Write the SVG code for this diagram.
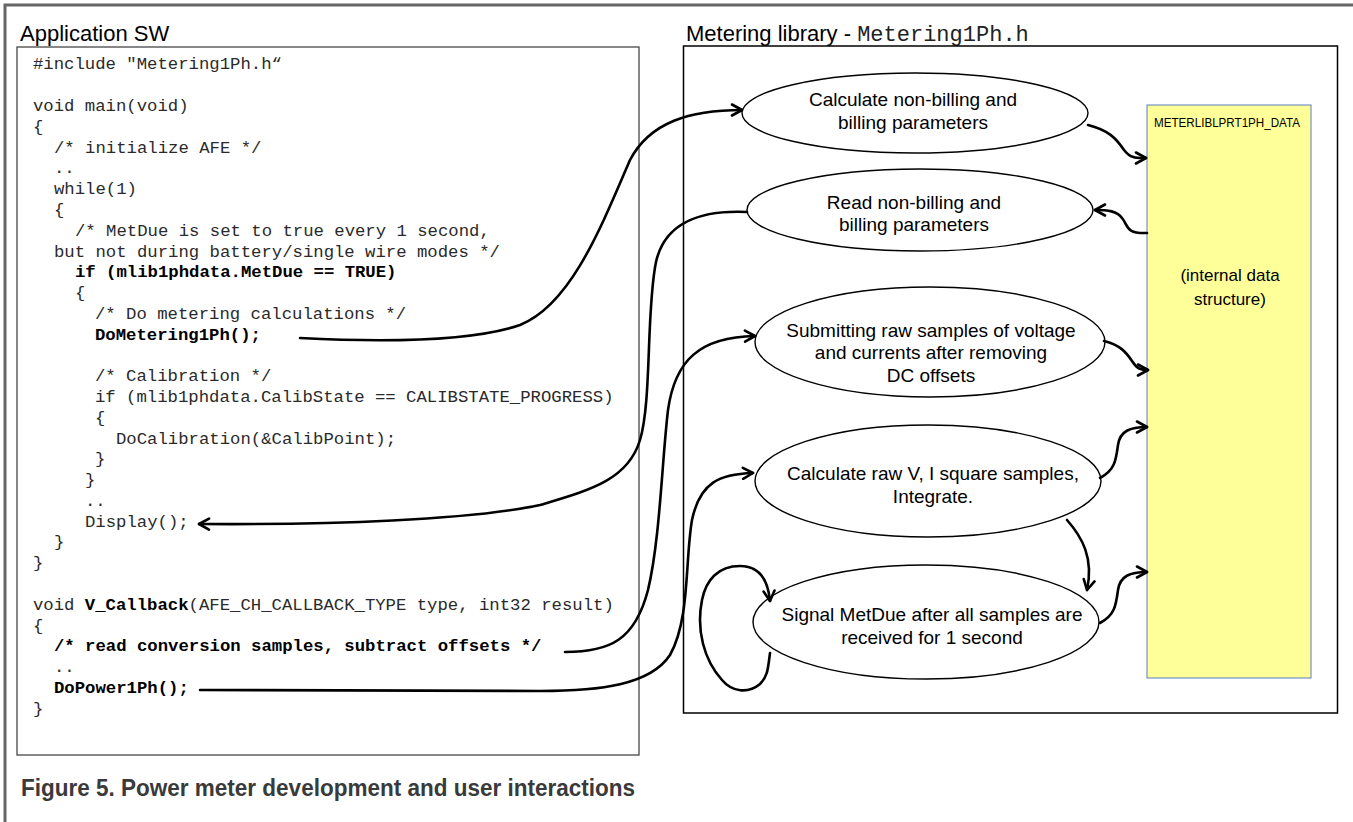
<svg xmlns="http://www.w3.org/2000/svg" width="1353" height="822" viewBox="0 0 1353 822">
  <style>
    .code { font-family: "Liberation Mono", "Courier New", monospace; font-size: 17.3px; fill: #2a2a2a; }
    .b { font-weight: bold; fill: #000; }
    .title { font-family: "Liberation Sans", Arial, sans-serif; font-size: 22px; fill: #000; }
    .lbl { font-family: "Liberation Sans", Arial, sans-serif; font-size: 19px; fill: #000; text-anchor: middle; }
    .bubble { fill: #fff; stroke: #000; stroke-width: 1.4; }
    .conn { fill: none; stroke: #000; stroke-width: 2.6; stroke-linecap: round; marker-end: url(#arr); }
  </style>
  <defs>
    <marker id="arr" viewBox="0 0 14 14" refX="12" refY="7" markerWidth="14" markerHeight="14" markerUnits="userSpaceOnUse" orient="auto">
      <path d="M2,1.5 L12,7 L2,12.5" fill="none" stroke="#000" stroke-width="2.6" stroke-linecap="round" stroke-linejoin="round"/>
    </marker>
  </defs>

  <rect width="1353" height="822" fill="#fff"/>
  <!-- page border -->
  <path d="M5,822 V5 H1353" fill="none" stroke="#666" stroke-width="3"/>

  <!-- application code panel -->
  <g id="app-sw">
    <text class="title" x="20" y="41">Application SW</text>
    <rect x="17" y="47" width="622" height="708" fill="#fff" stroke="#555" stroke-width="1.4"/>
    <text class="code" x="33" y="69">#include "Metering1Ph.h“</text>
    <text class="code" x="33" y="111">void main(void)</text>
    <text class="code" x="33" y="132">{</text>
    <text class="code" x="54" y="153">/* initialize AFE */</text>
    <text class="code" x="54" y="173">..</text>
    <text class="code" x="54" y="194">while(1)</text>
    <text class="code" x="54" y="215">{</text>
    <text class="code" x="75" y="236">/* MetDue is set to true every 1 second,</text>
    <text class="code" x="54" y="257">but not during battery/single wire modes */</text>
    <text class="code b" x="75" y="277">if (mlib1phdata.MetDue == TRUE)</text>
    <text class="code" x="75" y="298">{</text>
    <text class="code" x="95" y="319">/* Do metering calculations */</text>
    <text class="code b" x="95" y="340">DoMetering1Ph();</text>
    <text class="code" x="95" y="381">/* Calibration */</text>
    <text class="code" x="95" y="402">if (mlib1phdata.CalibState == CALIBSTATE_PROGRESS)</text>
    <text class="code" x="95" y="423">{</text>
    <text class="code" x="116" y="444">DoCalibration(&amp;CalibPoint);</text>
    <text class="code" x="95" y="464">}</text>
    <text class="code" x="85" y="485">}</text>
    <text class="code" x="85" y="506">..</text>
    <text class="code" x="85" y="527">Display();</text>
    <text class="code" x="54" y="547">}</text>
    <text class="code" x="33" y="568">}</text>
    <text class="code" x="33" y="610">void <tspan class="b">V_Callback</tspan>(AFE_CH_CALLBACK_TYPE type, int32 result)</text>
    <text class="code" x="33" y="631">{</text>
    <text class="code b" x="54" y="651">/* read conversion samples, subtract offsets */</text>
    <text class="code" x="54" y="672">..</text>
    <text class="code b" x="54" y="693">DoPower1Ph();</text>
    <text class="code" x="33" y="714">}</text>
  </g>

  <!-- metering library panel -->
  <g id="metering-lib">
    <text class="title" x="686" y="41">Metering library - <tspan font-family="Liberation Mono, Courier New, monospace" font-size="22" fill="#222">Metering1Ph.h</tspan></text>
    <rect x="683.5" y="46" width="654" height="667" fill="#fff" stroke="#000" stroke-width="1.5"/>
  </g>

  <g id="data-struct">
    <rect x="1147" y="105" width="164" height="573" fill="#ffff99" stroke="#5b7fbf" stroke-width="1"/>
    <text x="1154" y="127" font-family="Liberation Sans, Arial, sans-serif" font-size="12" textLength="146" lengthAdjust="spacingAndGlyphs" fill="#000">METERLIBLPRT1PH_DATA</text>
    <text x="1230" y="281" font-family="Liberation Sans, Arial, sans-serif" font-size="17" text-anchor="middle" fill="#000">(internal data</text>
    <text x="1230" y="305" font-family="Liberation Sans, Arial, sans-serif" font-size="17" text-anchor="middle" fill="#000">structure)</text>
  </g>

  <g id="calc-params">
    <ellipse class="bubble" cx="915" cy="113" rx="173" ry="40"/>
    <text class="lbl" x="913" y="106">Calculate non-billing and</text>
    <text class="lbl" x="913" y="129">billing parameters</text>
  </g>

  <g id="read-params">
    <ellipse class="bubble" cx="920" cy="210" rx="173" ry="41"/>
    <text class="lbl" x="914" y="209">Read non-billing and</text>
    <text class="lbl" x="914" y="231">billing parameters</text>
  </g>

  <g id="submit-samples">
    <ellipse class="bubble" cx="930" cy="342" rx="175" ry="55"/>
    <text class="lbl" x="931" y="337">Submitting raw samples of voltage</text>
    <text class="lbl" x="931" y="359">and currents after removing</text>
    <text class="lbl" x="931" y="382">DC offsets</text>
  </g>

  <g id="square-integrate">
    <ellipse class="bubble" cx="928" cy="481" rx="173" ry="56"/>
    <text class="lbl" x="933" y="480">Calculate raw V, I square samples,</text>
    <text class="lbl" x="933" y="503">Integrate.</text>
  </g>

  <g id="signal-metdue">
    <ellipse class="bubble" cx="926" cy="622" rx="173" ry="57"/>
    <text class="lbl" x="932" y="621">Signal MetDue after all samples are</text>
    <text class="lbl" x="932" y="644">received for 1 second</text>
  </g>

  <!-- connectors -->
  <g id="connectors">
    <path class="conn" d="M300,338 C380,342 470,342 520,325 C570,305 600,230 630,160 C650,122 690,110 742,110"/>
    <path class="conn" d="M747,212 C700,210 665,222 656,262 C646,310 652,400 640,440 C628,480 590,490 540,505 C470,520 330,525 199,524"/>
    <path class="conn" d="M565,652 C610,652 635,640 648,590 C660,540 662,460 668,410 C675,360 700,337 755,336"/>
    <path class="conn" d="M200,690 L540,691 C600,691 650,685 670,655 C690,620 685,560 692,520 C700,482 720,474 753,473"/>
    <path class="conn" d="M1088,125 C1108,130 1116,138 1124,150 C1131,159 1137,158 1146,158"/>
    <path class="conn" d="M1147,233 C1125,234 1128,225 1122,218 C1117,211 1108,210 1095,210"/>
    <path class="conn" d="M1104,341 C1120,345 1126,352 1132,361 C1137,369 1141,370 1148,370"/>
    <path class="conn" d="M1100,478 C1115,470 1116,460 1118,445 C1120,431 1130,427 1147,427"/>
    <path class="conn" d="M1067,520 C1082,537 1094,558 1087,590"/>
    <path class="conn" d="M1100,623 C1115,615 1116,605 1118,590 C1120,576 1130,572 1147,572"/>
    <path class="conn" d="M770,653 C768,668 768,676 760,684 C748,694 732,692 722,680 C704,660 696,630 702,600 C706,580 718,566 740,566 C760,566 768,580 770,601"/>
  </g>

  <text x="21" y="796" font-family="Liberation Sans, Arial, sans-serif" font-size="23" font-weight="bold" fill="#3a3a3a" textLength="614" lengthAdjust="spacingAndGlyphs">Figure 5.  Power meter development and user interactions</text>
</svg>
